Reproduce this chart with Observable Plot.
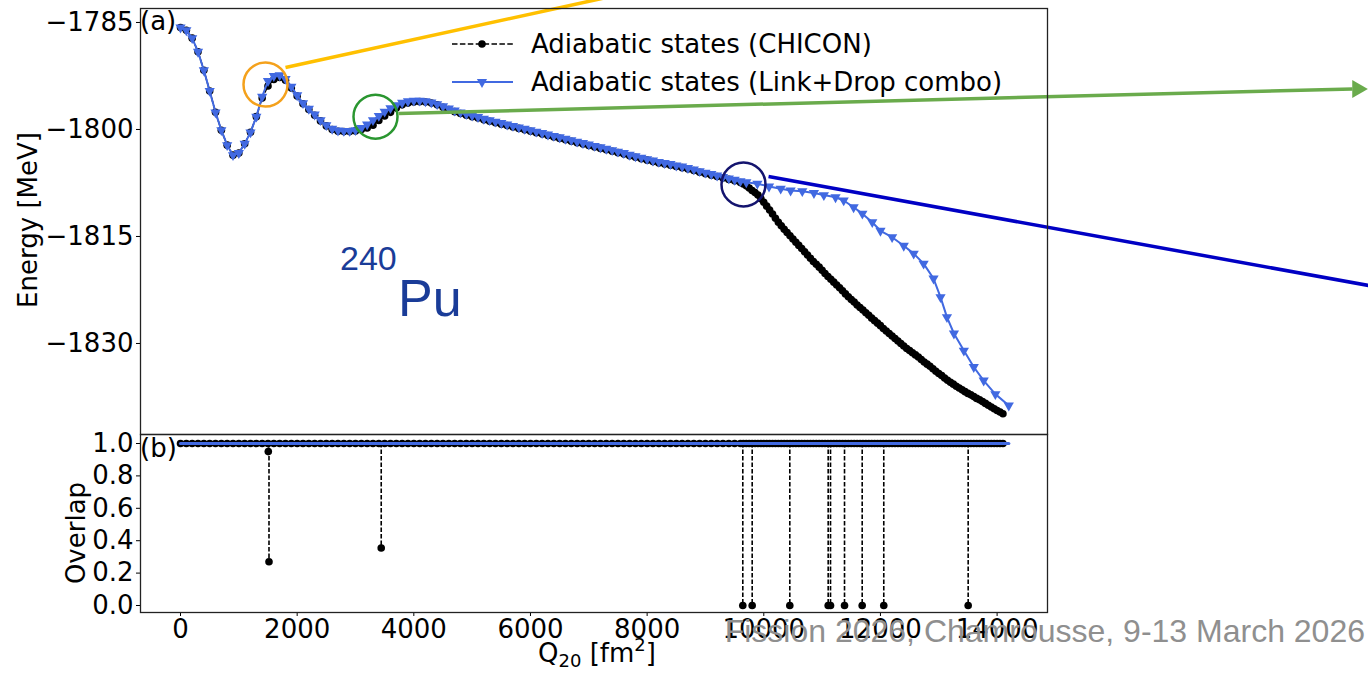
<!DOCTYPE html>
<html><head><meta charset="utf-8">
<script src="https://cdn.jsdelivr.net/npm/d3@7"></script>
<script src="https://cdn.jsdelivr.net/npm/@observablehq/plot@0.6"></script>
<style>
html,body{margin:0;padding:0;background:#fff;}
#wrap{position:relative;width:1368px;height:673px;overflow:hidden;background:#fff;}
#top,#bot,#over{position:absolute;left:0;}
#top{top:0;} #bot{top:434px;} #over{top:0;pointer-events:none;}
svg{overflow:visible}
</style></head><body><div id="wrap"><div id="top"></div><div id="bot"></div><svg id="over" width="1368" height="673"></svg></div>
<script>
// ---------- data ----------
// CHICON adiabatic states (black): Q20 [fm^2] and energy [MeV]
const chiconQ = [
  0,100,200,300,400,500,600,700,800,900,
  1000,1100,1200,1300,1400,1500,1600,1700,1800,1900,
  2000,2100,2200,2300,2400,2500,2600,2700,2800,2900,
  3000,3100,3200,3300,3400,3500,3600,3700,3800,3900,
  4000,4100,4200,4300,4400,4500,4600,4700,4800,4900,
  5000,5100,5200,5300,5400,5500,5600,5700,5800,5900,
  6000,6100,6200,6300,6400,6500,6600,6700,6800,6900,
  7000,7100,7200,7300,7400,7500,7600,7700,7800,7900,
  8000,8100,8200,8300,8400,8500,8600,8700,8800,8900,
  9000,9100,9200,9300,9400,9500,9600,9650,9700,9750,
  9800,9850,9900,9950,10000,10050,10100,10150,10200,10250,
  10300,10350,10400,10450,10500,10550,10600,10650,10700,10750,
  10800,10850,10900,10950,11000,11050,11100,11150,11200,11250,
  11300,11350,11400,11450,11500,11550,11600,11650,11700,11750,
  11800,11850,11900,11950,12000,12050,12100,12150,12200,12250,
  12300,12350,12400,12450,12500,12550,12600,12650,12700,12750,
  12800,12850,12900,12950,13000,13050,13100,13150,13200,13250,
  13300,13350,13400,13450,13500,13550,13600,13650,13700,13750,
  13800,13850,13900,13950,14000,14050,14100];
const chiconE = [
  -1785.7,-1786.1,-1787.2,-1789.1,-1791.7,-1794.6,-1797.6,-1800.1,-1802.2,-1803.6,
  -1803.3,-1802.0,-1800.4,-1798.2,-1795.6,-1793.9,-1793.0,-1792.7,-1793.1,-1794.2,
  -1795.3,-1796.4,-1797.2,-1798.0,-1798.8,-1799.5,-1800.0,-1800.25,-1800.3,-1800.3,
  -1800.2,-1800.0,-1799.8,-1799.4,-1798.75,-1798.1,-1797.6,-1797.0,-1796.55,-1796.3,
  -1796.15,-1796.1,-1796.15,-1796.3,-1796.55,-1796.9,-1797.2,-1797.5,-1797.75,-1798.0,
  -1798.2,-1798.4,-1798.65,-1798.85,-1799.05,-1799.25,-1799.45,-1799.65,-1799.85,-1800.05,
  -1800.25,-1800.45,-1800.65,-1800.85,-1801.05,-1801.25,-1801.45,-1801.65,-1801.85,-1802.05,
  -1802.25,-1802.45,-1802.65,-1802.85,-1803.05,-1803.25,-1803.45,-1803.7,-1803.9,-1804.1,
  -1804.3,-1804.5,-1804.7,-1804.85,-1805.0,-1805.2,-1805.35,-1805.55,-1805.75,-1806.0,
  -1806.2,-1806.4,-1806.6,-1806.8,-1807.0,-1807.2,-1807.45,-1807.65,-1807.9,-1808.2,
  -1808.55,-1808.85,-1809.2,-1809.7,-1810.2,-1810.75,-1811.3,-1811.85,-1812.45,-1813.0,
  -1813.5,-1814.0,-1814.45,-1814.9,-1815.35,-1815.8,-1816.25,-1816.7,-1817.15,-1817.6,
  -1818.05,-1818.5,-1818.9,-1819.3,-1819.75,-1820.2,-1820.6,-1821.0,-1821.4,-1821.8,
  -1822.2,-1822.6,-1823.05,-1823.45,-1823.85,-1824.2,-1824.6,-1824.95,-1825.3,-1825.7,
  -1826.05,-1826.45,-1826.8,-1827.15,-1827.5,-1827.9,-1828.25,-1828.6,-1828.95,-1829.3,
  -1829.65,-1830.0,-1830.35,-1830.7,-1831.0,-1831.3,-1831.6,-1831.9,-1832.25,-1832.6,
  -1832.9,-1833.2,-1833.55,-1833.9,-1834.2,-1834.5,-1834.85,-1835.15,-1835.45,-1835.7,
  -1836.0,-1836.25,-1836.5,-1836.75,-1837.0,-1837.2,-1837.45,-1837.7,-1837.9,-1838.15,
  -1838.4,-1838.65,-1838.9,-1839.15,-1839.4,-1839.6,-1839.85];

// Link+Drop combo adiabatic states (blue)
const comboQ = [
  0,100,200,300,400,500,600,700,800,900,
  1000,1100,1200,1300,1400,1500,1600,1700,1800,1900,
  2000,2100,2200,2300,2400,2500,2600,2700,2800,2900,
  3000,3100,3200,3300,3400,3500,3600,3700,3800,3900,
  4000,4100,4200,4300,4400,4500,4600,4700,4800,4900,
  5000,5100,5200,5300,5400,5500,5600,5700,5800,5900,
  6000,6100,6200,6300,6400,6500,6600,6700,6800,6900,
  7000,7100,7200,7300,7400,7500,7600,7700,7800,7900,
  8000,8100,8200,8300,8400,8500,8600,8700,8800,8900,
  9000,9100,9200,9300,9400,9500,9600,9700,
  9890,10090,10290,10460,10660,10860,11030,11230,11370,11540,
  11690,11860,12000,12200,12400,12570,12740,12910,13030,13140,
  13260,13430,13600,13770,13970,14200];
const comboE = [
  -1785.7,-1786.1,-1787.2,-1789.1,-1791.7,-1794.6,-1797.6,-1800.1,-1802.2,-1803.6,
  -1803.3,-1802.0,-1800.4,-1798.2,-1795.4,-1793.2,-1792.5,-1792.4,-1792.9,-1794.0,
  -1795.2,-1796.3,-1797.1,-1797.9,-1798.7,-1799.4,-1799.9,-1800.15,-1800.2,-1800.2,
  -1800.1,-1799.8,-1799.3,-1798.7,-1798.1,-1797.5,-1797.0,-1796.6,-1796.25,-1796.05,
  -1795.95,-1795.95,-1796.05,-1796.2,-1796.45,-1796.75,-1797.05,-1797.35,-1797.6,-1797.85,
  -1798.05,-1798.25,-1798.5,-1798.7,-1798.9,-1799.1,-1799.3,-1799.5,-1799.7,-1799.9,
  -1800.1,-1800.3,-1800.5,-1800.7,-1800.9,-1801.1,-1801.3,-1801.5,-1801.7,-1801.9,
  -1802.1,-1802.3,-1802.5,-1802.7,-1802.9,-1803.1,-1803.3,-1803.55,-1803.75,-1803.95,
  -1804.15,-1804.35,-1804.55,-1804.7,-1804.85,-1805.05,-1805.2,-1805.4,-1805.6,-1805.85,
  -1806.05,-1806.25,-1806.45,-1806.65,-1806.85,-1807.05,-1807.25,-1807.4,
  -1807.6,-1808.0,-1808.3,-1808.55,-1808.65,-1808.9,-1809.2,-1809.5,-1809.95,-1810.9,
  -1811.8,-1813.0,-1814.2,-1815.1,-1816.3,-1817.4,-1818.8,-1820.9,-1823.5,-1826.3,
  -1828.6,-1831.0,-1833.3,-1835.2,-1837.1,-1838.7];

// Overlap panel (b)
const overlapPlateau = 1.0;            // both series sit at 1.0 except the drops
const dropQ   = [1505, 1517, 3441, 9640, 9801, 10446, 11104, 11144, 11384, 11687, 12057, 13504];
const dropVal = [0.95, 0.27, 0.355, 0, 0, 0, 0, 0, 0, 0, 0, 0];
const comboOverlapQ = [0, 14200];

// Ticks
const energyTicks = [-1785, -1800, -1815, -1830];
const overlapTicks = [0, 0.2, 0.4, 0.6, 0.8, 1.0];
const q20Ticks = [0, 2000, 4000, 6000, 8000, 10000, 12000, 14000];

// Annotations (in data coordinates)
const circleQ = [1457, 3343, 9652];
const circleE = [-1793.7, -1798.2, -1807.7];
const circleColor = ["#f4a11c", "#2a9630", "#14146e"];
const pointerQ1 = [1800, 3737, 10081];
const pointerE1 = [-1791.3, -1797.76, -1806.6];
const pointerQ2 = [7543, 20093, 20367];
const pointerE2 = [-1781.07, -1794.32, -1821.87];
const pointerColor = ["#ffc000", "#6aab4c", "#0000c4"];
const arrowHeadQ = [20178];
const arrowHeadE = [-1794.32];

// ---------- build ----------
const chicon = chiconQ.map((q, i) => ({q, e: chiconE[i]}));
const combo = comboQ.map((q, i) => ({q, e: comboE[i]}));
const chiconOv = chiconQ.map(q => ({q, o: overlapPlateau}));
const drops = dropQ.map((q, i) => ({q, o: dropVal[i]}));
const comboOv = comboOverlapQ.map(q => ({q, o: overlapPlateau}));
const circles = circleQ.map((q, i) => ({q, e: circleE[i], c: circleColor[i]}));
const pointers = pointerQ1.map((q, i) => ({q1: q, e1: pointerE1[i], q2: pointerQ2[i], e2: pointerE2[i], c: pointerColor[i]}));
const heads = arrowHeadQ.map((q, i) => ({q, e: arrowHeadE[i]}));

const xDomain = [-686, 14864];
const font = {fontFamily: "DejaVu Sans", fontSize: "26px", color: "black", background: "transparent", overflow: "visible"};
const BLUE = "#4169e1";

const plotTop = Plot.plot({
  width: 1368, height: 434,
  marginLeft: 140, marginRight: 321, marginTop: 8, marginBottom: 0,
  style: font,
  x: {domain: xDomain, axis: null},
  y: {domain: [-1842.76, -1783.04], ticks: energyTicks, tickFormat: d3.format("d"), tickSize: 4, tickPadding: 3, label: null},
  marks: [
    Plot.line(chicon, {x: "q", y: "e", stroke: "black", strokeWidth: 1.5, strokeDasharray: "5.5,2.4"}),
    Plot.dot(chicon, {x: "q", y: "e", r: 3.8, fill: "black", stroke: "none"}),
    Plot.line(combo, {x: "q", y: "e", stroke: BLUE, strokeWidth: 2}),
    Plot.dot(combo, {x: "q", y: "e", symbol: "triangle", r: 3.8, fill: BLUE, stroke: "none", rotate: 180}),
    Plot.dot(circles, {x: "q", y: "e", r: 22, fill: "none", stroke: "c", strokeWidth: 2.5}),
    Plot.link(pointers, {x1: "q1", y1: "e1", x2: "q2", y2: "e2", stroke: "c", strokeWidth: 3.5}),
    Plot.dot(heads, {x: "q", y: "e", symbol: "triangle", r: 6.7, rotate: 90, fill: "#6aab4c", stroke: "none"}),
    Plot.frame({stroke: "#222", strokeWidth: 1.3})
  ]
});
document.getElementById("top").appendChild(plotTop);

const plotBot = Plot.plot({
  width: 1368, height: 239,
  marginLeft: 140, marginRight: 321, marginTop: 0, marginBottom: 61,
  style: font,
  x: {domain: xDomain, ticks: q20Ticks, tickFormat: d3.format("d"), tickSize: 4, tickPadding: 3, label: null},
  y: {domain: [-0.0432, 1.0556], ticks: overlapTicks, tickFormat: d3.format(".1f"), tickSize: 4, tickPadding: 3, label: null},
  marks: [
    Plot.line(chiconOv, {x: "q", y: "o", stroke: "black", strokeWidth: 1.5, strokeDasharray: "5.5,2.4"}),
    Plot.dot(chiconOv, {x: "q", y: "o", r: 3.8, fill: "black", stroke: "none"}),
    Plot.ruleX(drops, {x: "q", y1: overlapPlateau, y2: "o", stroke: "black", strokeWidth: 1.6, strokeDasharray: "4.5,2"}),
    Plot.dot(drops, {x: "q", y: "o", r: 3.8, fill: "black", stroke: "none"}),
    Plot.line(comboOv, {x: "q", y: "o", stroke: BLUE, strokeWidth: 3.2, strokeLinecap: "round"}),
    Plot.frame({stroke: "#222", strokeWidth: 1.3})
  ]
});
document.getElementById("bot").appendChild(plotBot);

// ---------- overlay texts & legend ----------
const ov = d3.select("#over");
const T = (x, y, txt, opts = {}) => ov.append("text").attr("x", x).attr("y", y)
  .attr("font-family", opts.ff || "DejaVu Sans").attr("font-size", opts.fs || 26)
  .attr("fill", opts.fill || "black").attr("text-anchor", opts.anchor || "start").text(txt);

// legend
ov.append("line").attr("x1", 452).attr("x2", 513).attr("y1", 44).attr("y2", 44)
  .attr("stroke", "black").attr("stroke-width", 1.5).attr("stroke-dasharray", "5.5,2.4");
ov.append("circle").attr("cx", 482).attr("cy", 44).attr("r", 3.8).attr("fill", "black");
T(531, 53, "Adiabatic states (CHICON)");
ov.append("line").attr("x1", 452).attr("x2", 513).attr("y1", 82).attr("y2", 82)
  .attr("stroke", BLUE).attr("stroke-width", 2);
ov.append("path").attr("d", d3.symbol(d3.symbolTriangle, 45)()).attr("transform", "translate(482,82) rotate(180)").attr("fill", BLUE);
T(531, 91, "Adiabatic states (Link+Drop combo)");

// panel tags
T(140, 30, "(a)");
T(140, 457, "(b)");

// axis labels
ov.append("text").attr("transform", "translate(37,220) rotate(-90)").attr("text-anchor", "middle")
  .attr("font-family", "DejaVu Sans").attr("font-size", 26).text("Energy [MeV]");
ov.append("text").attr("transform", "translate(85,533) rotate(-90)").attr("text-anchor", "middle")
  .attr("font-family", "DejaVu Sans").attr("font-size", 26).text("Overlap");
const ql = ov.append("text").attr("x", 597).attr("y", 662).attr("text-anchor", "middle")
  .attr("font-family", "DejaVu Sans").attr("font-size", 26);
ql.append("tspan").text("Q");
ql.append("tspan").attr("font-size", 18).attr("dy", 5).text("20");
ql.append("tspan").attr("dy", -5).text(" [fm");
ql.append("tspan").attr("font-size", 18).attr("dy", -11).text("2");
ql.append("tspan").attr("dy", 11).text("]");

// nucleus tag
T(340, 270, "240", {ff: "Liberation Sans", fs: 34, fill: "#1a3c98"});
T(398, 316, "Pu", {ff: "Liberation Sans", fs: 52, fill: "#1a3c98"});

// footer
T(1365, 642, "Fission 2026, Chamrousse, 9-13 March 2026", {ff: "Liberation Sans", fs: 32, fill: "#8f8f8f", anchor: "end"});
</script></body></html>
